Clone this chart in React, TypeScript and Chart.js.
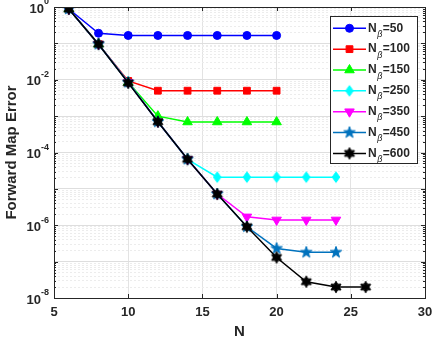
import React, { useEffect, useRef } from 'react';
import { Chart, registerables } from 'chart.js';
import { drawPoint } from 'chart.js/helpers';

Chart.register(...registerables);

// ---- data ----
const seriesNames = ['50', '100', '150', '250', '350', '450', '600'];
const n20 = [6, 8, 10, 12, 14, 16, 18, 20];
const n24 = [6, 8, 10, 12, 14, 16, 18, 20, 22, 24];
const n26 = [6, 8, 10, 12, 14, 16, 18, 20, 22, 24, 26];
const err50 = [0.88, 0.19, 0.165, 0.165, 0.165, 0.165, 0.165, 0.165];
const err100 = [0.88, 0.095, 0.0093, 0.005, 0.005, 0.005, 0.005, 0.005];
const err150 = [0.88, 0.095, 0.0085, 0.001, 0.00069, 0.00069, 0.00069, 0.00069];
const err250 = [0.88, 0.095, 0.0085, 0.0007, 6.5e-5, 2.1e-5, 2.1e-5, 2.1e-5, 2.1e-5, 2.1e-5];
const err350 = [0.88, 0.095, 0.0085, 0.0007, 6.5e-5, 7.2e-6, 1.7e-6, 1.4e-6, 1.4e-6, 1.4e-6];
const err450 = [0.88, 0.095, 0.0085, 0.0007, 6.5e-5, 7.2e-6, 9.1e-7, 2.3e-7, 1.8e-7, 1.8e-7];
const err600 = [0.88, 0.095, 0.0082, 0.0007, 6.5e-5, 7.2e-6, 9.1e-7, 1.3e-7, 2.8e-8, 2.0e-8, 2.0e-8];
const seriesX = [n20, n20, n20, n24, n24, n24, n26];
const seriesY = [err50, err100, err150, err250, err350, err450, err600];
const xTickValues = [5, 10, 15, 20, 25, 30];
const yLabelExponents = [0, -2, -4, -6, -8];
const xTitle = 'N';
const yTitle = 'Forward Map Error';

// ---- styles ----
const colors = ['#0000ff', '#ff0000', '#00ff00', '#00ffff', '#ff00ff', '#0072bd', '#000000'];
const FONT = '"Liberation Sans", Arial, Helvetica, sans-serif';
const TEXT = '#262626';

function polyCanvas(pts: [number, number][], fill: string, size: number) {
  const c = document.createElement('canvas');
  c.width = size;
  c.height = size;
  const ctx = c.getContext('2d')!;
  ctx.translate(size / 2, size / 2);
  ctx.beginPath();
  pts.forEach(([x, y], i) => (i ? ctx.lineTo(x, y) : ctx.moveTo(x, y)));
  ctx.closePath();
  ctx.fillStyle = fill;
  ctx.fill();
  ctx.strokeStyle = fill;
  ctx.lineWidth = 1;
  ctx.stroke();
  return c;
}
function starPts(n: number, outer: number, inner: number): [number, number][] {
  const p: [number, number][] = [];
  for (let i = 0; i < n * 2; i++) {
    const r = i % 2 === 0 ? outer : inner;
    const a = -Math.PI / 2 + (i * Math.PI) / n;
    p.push([r * Math.cos(a), r * Math.sin(a)]);
  }
  return p;
}

export default function App() {
  const ref = useRef<HTMLCanvasElement>(null);
  useEffect(() => {
    const canvas = ref.current!;
    const diamond = polyCanvas([[0, -5.3], [3.8, 0], [0, 5.3], [-3.8, 0]], colors[3], 14);
    const pentagram = polyCanvas(starPts(5, 6, 2.4), colors[5], 14);
    const hexagram = polyCanvas(starPts(6, 5.8, 3.3), colors[6], 14);
    const styles: any[] = [
      { pointStyle: 'circle', radius: 4, rotation: 0 },
      { pointStyle: 'rect', radius: 4.8, rotation: 0 },
      { pointStyle: 'triangle', radius: 5.5, rotation: 0 },
      { pointStyle: diamond, radius: 5, rotation: 0 },
      { pointStyle: 'triangle', radius: 5.5, rotation: 180 },
      { pointStyle: pentagram, radius: 5, rotation: 0 },
      { pointStyle: hexagram, radius: 5, rotation: 0 },
    ];

    const isMajor = (v: number) => {
      const l = Math.log10(v);
      return Math.abs(l - Math.round(l)) < 1e-6;
    };

    const decor = {
      id: 'decor',
      afterDraw(chart: any) {
        const ctx = chart.ctx as CanvasRenderingContext2D;
        const ca = chart.chartArea;
        const xs = chart.scales.x;
        const ys = chart.scales.y;
        ctx.save();
        ctx.strokeStyle = TEXT;
        ctx.lineWidth = 1;
        // x tick marks
        ctx.beginPath();
        xTickValues.forEach((v) => {
          const px = Math.round(xs.getPixelForValue(v)) + 0.5;
          ctx.moveTo(px, ca.bottom);
          ctx.lineTo(px, ca.bottom - 4);
          ctx.moveTo(px, ca.top);
          ctx.lineTo(px, ca.top + 4);
        });
        // y tick marks
        for (let k = -8; k <= 0; k++) {
          for (let m = 1; m <= 9; m++) {
            const v = m * Math.pow(10, k);
            if (v > 1.0001) break;
            const py = Math.round(ys.getPixelForValue(v)) + 0.5;
            const len = m === 1 ? 4 : 2;
            ctx.moveTo(ca.left, py);
            ctx.lineTo(ca.left + len, py);
            ctx.moveTo(ca.right, py);
            ctx.lineTo(ca.right - len, py);
          }
        }
        ctx.stroke();
        // box
        ctx.strokeRect(
          Math.round(ca.left) + 0.5,
          Math.round(ca.top) + 0.5,
          Math.round(ca.right - ca.left),
          Math.round(ca.bottom - ca.top)
        );

        ctx.fillStyle = TEXT;
        // x tick labels
        ctx.font = `bold 13px ${FONT}`;
        ctx.textAlign = 'center';
        ctx.textBaseline = 'middle';
        xTickValues.forEach((v) => {
          ctx.fillText(String(v), xs.getPixelForValue(v), ca.bottom + 14);
        });
        // y tick labels
        yLabelExponents.forEach((e) => {
          const py = ys.getPixelForValue(Math.pow(10, e));
          const expStr = e === 0 ? '0' : '-' + String(-e);
          ctx.font = `bold 9px ${FONT}`;
          const we = ctx.measureText(expStr).width;
          ctx.textAlign = 'left';
          ctx.textBaseline = 'middle';
          const right = ca.left - 5;
          ctx.fillText(expStr, right - we, py - 5);
          ctx.font = `bold 13px ${FONT}`;
          ctx.textAlign = 'right';
          ctx.fillText('10', right - we, py + 2);
        });
        // axis titles
        ctx.font = `bold 15px ${FONT}`;
        ctx.textAlign = 'center';
        ctx.textBaseline = 'middle';
        ctx.fillText(xTitle, (ca.left + ca.right) / 2, 331.5);
        ctx.save();
        ctx.translate(11.5, (ca.top + ca.bottom) / 2);
        ctx.rotate(-Math.PI / 2);
        ctx.fillText(yTitle, 0, 0);
        ctx.restore();

        // legend
        const lx = 330, ly = 16, lw = 87, lh = 147;
        ctx.fillStyle = '#ffffff';
        ctx.fillRect(lx, ly, lw, lh);
        ctx.strokeStyle = TEXT;
        ctx.lineWidth = 1;
        ctx.strokeRect(lx + 0.5, ly + 0.5, lw, lh);
        seriesNames.forEach((name, i) => {
          const y = 28.3 + i * 20.85;
          ctx.strokeStyle = colors[i];
          ctx.fillStyle = colors[i];
          ctx.lineWidth = 1.5;
          ctx.beginPath();
          ctx.moveTo(333, y);
          ctx.lineTo(366, y);
          ctx.stroke();
          ctx.lineWidth = 1;
          drawPoint(ctx, { ...styles[i], borderWidth: 1 }, 349.5, y);
          ctx.fillStyle = TEXT;
          ctx.textAlign = 'left';
          ctx.textBaseline = 'middle';
          ctx.font = `bold 12px ${FONT}`;
          ctx.fillText('N', 368, y);
          const wN = ctx.measureText('N').width;
          ctx.font = `italic 9px ${FONT}`;
          ctx.fillText('\u03b2', 368 + wN + 0.5, y + 6);
          const wb = ctx.measureText('\u03b2').width;
          ctx.font = `bold 12px ${FONT}`;
          ctx.fillText('=' + name, 368 + wN + wb + 1, y);
        });
        ctx.restore();
      },
    };

    const chart = new Chart(canvas, {
      type: 'line',
      data: {
        datasets: seriesNames.map((name, i) => ({
          label: 'N\u03b2=' + name,
          data: seriesX[i].map((x, j) => ({ x, y: seriesY[i][j] })),
          borderColor: colors[i],
          backgroundColor: colors[i],
          borderWidth: 1.5,
          pointStyle: styles[i].pointStyle,
          pointRadius: styles[i].radius,
          pointRotation: styles[i].rotation,
          pointBorderWidth: 1,
          pointBorderColor: colors[i],
          pointBackgroundColor: colors[i],
          tension: 0,
          order: -i,
        })),
      },
      options: {
        animation: false,
        responsive: false,
        devicePixelRatio: 1,
        layout: { padding: { left: 0, top: 7, right: 11, bottom: 0 } },
        plugins: { legend: { display: false }, tooltip: { enabled: false }, title: { display: false } },
        events: [],
        scales: {
          x: {
            type: 'linear',
            min: 5,
            max: 30,
            ticks: { display: false, stepSize: 5 },
            grid: { drawTicks: false, color: '#e3e3e3', lineWidth: 1 },
            border: { display: false },
            afterFit: (s: any) => {
              s.height = 41;
            },
          },
          y: {
            type: 'logarithmic',
            min: 1e-8,
            max: 1,
            ticks: { display: false },
            afterBuildTicks: (s: any) => {
              const t: any[] = [];
              for (let k = -8; k <= 0; k++) {
                for (let m = 1; m <= 9; m++) {
                  const v = m * Math.pow(10, k);
                  if (v > 1.0001) break;
                  t.push({ value: v });
                }
              }
              s.ticks = t;
            },
            grid: {
              drawTicks: false,
              lineWidth: 1,
              color: (c: any) => (c.tick && isMajor(c.tick.value) ? '#dedede' : '#ececec'),
            },
            border: {
              display: false,
              dash: (c: any) => (c.tick && isMajor(c.tick.value) ? [] : [2, 2]),
            },
            afterFit: (s: any) => {
              s.width = 54;
            },
          },
        },
      },
      plugins: [decor],
    } as any);
    return () => chart.destroy();
  }, []);
  return (
    <div style={{ position: 'fixed', left: 0, top: 0, width: 436, height: 339, background: '#fff' }}>
      <canvas ref={ref} width={436} height={339} style={{ display: 'block', width: 436, height: 339 }} />
    </div>
  );
}
